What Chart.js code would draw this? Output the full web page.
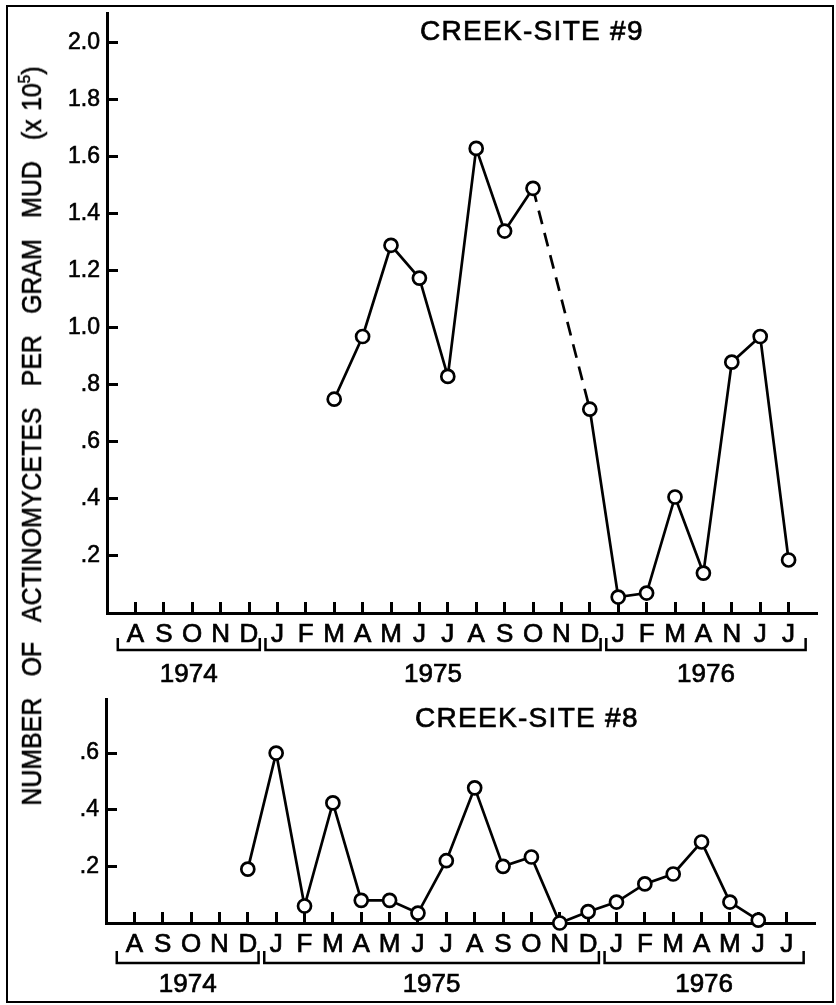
<!DOCTYPE html>
<html>
<head>
<meta charset="utf-8">
<title>Creek sites - actinomycetes</title>
<script src="https://cdn.jsdelivr.net/npm/chart.js@4.4.0/dist/chart.umd.min.js"></script>
<style>
    body { margin: 0; background: #fff; }
    #page { position: relative; width: 836px; height: 1005px; overflow: hidden; background: #fff; }
    #frame { position: absolute; left: 6px; top: 5px; width: 824px; height: 994px; border: 2px solid #000; }
    #site9 { position: absolute; left: 0; top: 0; }
    #site8 { position: absolute; left: 0; top: 690px; }
    #ytitle {
        position: absolute; left: 32px; top: 436px;
        transform: translate(-50%, -50%) rotate(-90deg) scaleX(0.89);
        white-space: nowrap; color: #000;
        font: 28px/28px "Liberation Sans", Arial, sans-serif;
        word-spacing: 16px;
        -webkit-text-stroke: 0.6px #000;
    }
    #ytitle sup { font-size: 62%; vertical-align: 0.62em; line-height: 0; word-spacing: 0; }
</style>
</head>
<body>
<div id="page">
    <div id="frame"></div>
    <canvas id="site9" width="836" height="690"></canvas>
    <canvas id="site8" width="836" height="315"></canvas>
    <div id="ytitle">NUMBER OF ACTINOMYCETES PER GRAM MUD (x&#8196;10<sup>5</sup>)</div>
</div>
<script>
// Datos (x 10^5 por gramo de lodo)
const monthsSite9 = ['A','S','O','N','D','J','F','M','A','M','J','J','A','S','O','N','D','J','F','M','A','N','J','J'];
const monthsSite8 = ['A','S','O','N','D','J','F','M','A','M','J','J','A','S','O','N','D','J','F','M','A','M','J','J'];
const years = ['1974', '1975', '1976'];
const yearFirstMonth = [0, 5, 17];
const yearLastMonth = [4, 16, 23];

// Creek-site #9 (noviembre 1975 sin muestra: linea punteada)
const site9 = [null, null, null, null, null, null, null, 0.75, 0.97, 1.29, 1.175, 0.83,
               1.63, 1.34, 1.49, null, 0.715, 0.056, 0.07, 0.407, 0.14, 0.88, 0.97, 0.186];
// Creek-site #8
const site8 = [null, null, null, null, 0.19, 0.60, 0.06, 0.424, 0.08, 0.08, 0.035, 0.22,
               0.477, 0.20, 0.233, 0.0, 0.04, 0.074, 0.138, 0.173, 0.286, 0.074, 0.01, null];

const site9Ticks = [0.2, 0.4, 0.6, 0.8, 1.0, 1.2, 1.4, 1.6, 1.8, 2.0];
const site9TickLabels = ['.2', '.4', '.6', '.8', '1.0', '1.2', '1.4', '1.6', '1.8', '2.0'];
const site8Ticks = [0.2, 0.4, 0.6];
const site8TickLabels = ['.2', '.4', '.6'];

const FONT = '"Liberation Sans", Arial, sans-serif';

/**
 * Titulo del panel, corchetes de los anios y etiquetas de anio
 */
const decorPlugin = {
    id: 'decor',
    afterDraw: function(chart, args, o) {
        const ctx = chart.ctx;
        const area = chart.chartArea;
        const xs = chart.scales.x;
        ctx.save();
        ctx.fillStyle = '#000';
        ctx.strokeStyle = '#000';

        ctx.font = '28px ' + FONT;
        ctx.letterSpacing = '1.3px';
        ctx.textAlign = 'left';
        ctx.textBaseline = 'alphabetic';
        ctx.lineWidth = 0.7;
        ctx.fillText(o.title, o.titleX, o.titleY);
        ctx.strokeText(o.title, o.titleX, o.titleY);
        ctx.letterSpacing = '0px';

        const yb = area.bottom + o.bracketDrop;
        ctx.font = '26px ' + FONT;
        ctx.textAlign = 'center';
        years.forEach((yr, i) => {
            const a = xs.getPixelForValue(yearFirstMonth[i] - (i === 0 ? 0.62 : 0.42));
            const b = xs.getPixelForValue(yearLastMonth[i] + (i === years.length - 1 ? 0.6 : 0.38));
            ctx.lineWidth = 2.5;
            ctx.beginPath();
            ctx.moveTo(a, yb - o.hook);
            ctx.lineTo(a, yb);
            ctx.lineTo(b, yb);
            ctx.lineTo(b, yb - o.hook);
            ctx.stroke();
            ctx.lineWidth = 0.7;
            ctx.fillText(yr, (a + b) / 2, area.bottom + o.yearBaseline);
            ctx.strokeText(yr, (a + b) / 2, area.bottom + o.yearBaseline);
        });
        ctx.restore();
    },
};

// Anula el relleno automatico que Chart.js reserva para las etiquetas
function noScalePadding(s) {
    s.paddingTop = 0;
    s.paddingBottom = 0;
    s.paddingLeft = 0;
    s.paddingRight = 0;
}

function makeChart(canvasId, cfg) {
    const canvas = document.getElementById(canvasId);
    return new Chart(canvas, {
        type: 'line',
        data: {
            datasets: [{
                data: cfg.values.map((v, i) => ({ x: i, y: v })),
                borderColor: '#000',
                borderWidth: 2.7,
                pointRadius: 6.5,
                pointBorderWidth: 2.7,
                pointBackgroundColor: '#fff',
                pointBorderColor: '#000',
                spanGaps: true,
                clip: false,
                tension: 0,
                segment: {
                    borderDash: ctx => (cfg.values[ctx.p1DataIndex - 1] === null ? [14, 9] : undefined),
                },
            }],
        },
        options: {
            responsive: false,
            animation: false,
            events: [],
            layout: { padding: cfg.padding },
            plugins: {
                legend: { display: false },
                tooltip: { enabled: false },
                decor: cfg.decor,
            },
            scales: {
                x: {
                    type: 'linear',
                    min: -1,
                    max: 24,
                    afterBuildTicks: s => { s.ticks = cfg.months.map((m, i) => ({ value: i })); },
                    afterFit: s => { s.height = cfg.xHeight; noScalePadding(s); },
                    border: { color: '#000', width: 3 },
                    grid: { drawOnChartArea: false, tickLength: -11, tickWidth: 3, tickColor: '#000' },
                    ticks: {
                        autoSkip: false,
                        maxRotation: 0,
                        padding: 17,
                        color: '#000',
                        textStrokeColor: '#000',
                        textStrokeWidth: 0.7,
                        font: { family: FONT, size: 26 },
                        callback: v => cfg.months[v],
                    },
                },
                y: {
                    min: 0,
                    max: cfg.yMax,
                    afterBuildTicks: s => { s.ticks = cfg.yTicks.map(v => ({ value: v })); },
                    afterFit: s => { s.width = cfg.yWidth; noScalePadding(s); },
                    border: { color: '#000', width: 3 },
                    grid: { drawOnChartArea: false, tickLength: -11, tickWidth: 3, tickColor: '#000' },
                    ticks: {
                        padding: 18,
                        color: '#000',
                        textStrokeColor: '#000',
                        textStrokeWidth: 0.6,
                        font: { family: FONT, size: 23 },
                        callback: (v, i) => cfg.yLabels[i],
                    },
                },
            },
        },
        plugins: [decorPlugin],
    });
}

makeChart('site9', {
    values: site9,
    months: monthsSite9,
    yTicks: site9Ticks,
    yLabels: site9TickLabels,
    yMax: 2.105,
    yWidth: 107,
    xHeight: 77,
    padding: { top: 13, right: 19, left: 0, bottom: 0 },
    decor: { title: 'CREEK-SITE #9', titleX: 420, titleY: 40, bracketDrop: 37, hook: 12, yearBaseline: 69 },
});

makeChart('site8', {
    values: site8,
    months: monthsSite8,
    yTicks: site8Ticks,
    yLabels: site8TickLabels,
    yMax: 0.79,
    yWidth: 106,
    xHeight: 82,
    padding: { top: 9, right: 21, left: 0, bottom: 0 },
    decor: { title: 'CREEK-SITE #8', titleX: 415, titleY: 37, bracketDrop: 40, hook: 12, yearBaseline: 69 },
});
</script>
</body>
</html>
